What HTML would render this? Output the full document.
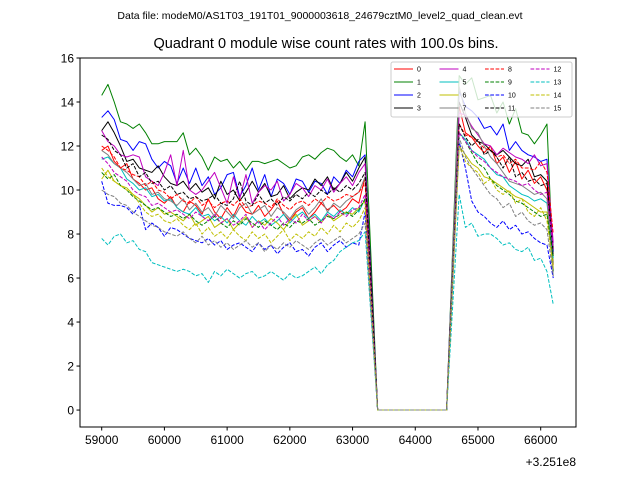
<!DOCTYPE html>
<html><head><meta charset="utf-8"><style>
body{margin:0;background:#fff}
svg{display:block;font-family:"Liberation Sans","DejaVu Sans",sans-serif}
</style></head><body>
<svg id="chart" width="640" height="480">
<text x="320" y="19" font-size="10.5" text-anchor="middle">Data file: modeM0/AS1T03_191T01_9000003618_24679cztM0_level2_quad_clean.evt</text>
<text x="326" y="48" font-size="14.5" text-anchor="middle">Quadrant 0 module wise count rates with 100.0s bins.</text>
<text x="576" y="466" font-size="12" text-anchor="end">+3.251e8</text>
<g id="plot"></g>
<g id="axes"></g>
<g id="legend"></g>
</svg>
<script>
const leftStart=59000, gapStart=63400, rightStart=64700, step=100;
const xTicks=[59000,60000,61000,62000,63000,64000,65000,66000];
const yTicks=[0,2,4,6,8,10,12,14,16];
const names=["0","1","2","3","4","5","6","7","8","9","10","11","12","13","14","15"];
const colors=["#ff0000","#008000","#0000ff","#000000","#bf00bf","#00bfbf","#bfbf00","#808080","#ff0000","#008000","#0000ff","#000000","#bf00bf","#00bfbf","#bfbf00","#808080"];
const dashed=[0,0,0,0,0,0,0,0,1,1,1,1,1,1,1,1];
const gapValues=[0,0,0,0,0,0,0,0,0,0,0,0];
const left0=[11.8,12.0,11.3,11.0,11.2,10.5,10.3,10.0,10.1,9.6,9.4,9.7,9.2,9.0,9.5,9.3,8.9,9.6,9.0,8.7,9.2,8.8,9.4,9.0,8.9,9.3,8.8,9.1,9.5,8.9,8.6,9.0,9.2,8.7,9.0,9.4,9.1,9.3,9.0,9.2,9.6,9.4,10.6];
const right0=[13.8,12.6,12.4,12.0,11.7,12.0,11.2,11.5,10.8,11.3,10.5,10.9,10.3,10.6,10.0,6.6];
const left1=[14.3,14.8,14.0,13.1,13.0,12.8,13.0,12.6,12.1,12.1,12.2,12.2,12.2,12.6,11.6,11.9,11.5,10.9,11.5,11.3,11.4,11.0,11.3,10.9,11.3,11.3,11.2,11.3,11.4,11.2,11.0,11.1,11.5,11.6,11.4,11.7,11.9,11.8,11.5,11.3,11.6,11.1,13.1];
const right1=[15.2,14.8,15.1,14.1,14.2,14.3,13.5,14.0,13.0,13.7,12.6,12.5,12.1,12.5,13.0,6.3];
const left2=[13.3,13.6,13.2,12.3,12.2,11.8,12.2,12.1,11.4,11.0,11.3,11.1,10.3,11.0,10.3,11.0,10.2,10.6,9.8,10.1,10.7,10.8,9.7,10.2,11.0,10.0,10.7,9.7,10.5,10.3,9.8,10.5,10.4,9.9,10.4,10.3,9.8,10.6,10.3,10.9,10.6,11.3,11.6];
const right2=[14.5,13.8,13.6,13.3,12.8,12.9,12.5,13.0,11.8,12.2,11.8,11.6,11.5,11.3,11.4,7.2];
const left3=[12.7,13.1,12.6,12.0,11.3,11.4,11.0,10.9,10.8,11.1,10.6,10.3,10.2,10.4,10.0,10.3,9.9,10.1,9.6,10.4,9.8,10.0,9.5,9.9,10.4,9.9,10.3,9.7,9.8,10.2,9.6,9.9,10.1,10.0,10.5,10.2,10.6,10.0,10.3,10.8,10.4,11.0,11.5];
const right3=[14.0,13.3,12.5,12.2,12.1,11.8,11.6,11.8,11.5,11.2,11.1,11.4,10.6,10.7,10.4,7.3];
const left4=[12.7,12.2,12.0,11.6,11.5,11.6,11.5,10.6,10.4,10.2,10.8,11.6,10.2,11.8,10.0,9.8,10.0,10.4,10.8,10.1,9.4,10.6,9.6,10.7,9.4,9.9,10.2,10.0,10.4,9.5,9.8,10.3,10.1,9.7,10.2,10.0,10.5,9.9,10.3,10.6,10.2,10.8,11.2];
const right4=[13.5,13.4,12.9,12.5,12.1,12.0,11.6,11.9,11.7,11.5,11.4,11.2,11.6,11.1,11.2,7.6];
const left5=[11.4,11.5,11.2,11.0,10.5,10.3,10.0,10.1,9.7,9.8,9.5,9.6,9.2,9.0,8.9,9.2,8.8,8.9,8.6,8.8,8.5,8.9,8.6,8.4,8.8,8.5,8.7,8.4,8.6,8.9,8.5,8.8,9.0,8.7,8.9,8.6,9.0,8.8,9.1,8.9,9.2,9.0,9.6];
const right5=[12.6,12.3,11.8,11.6,11.4,11.0,10.7,10.6,10.2,10.0,9.8,9.7,9.5,9.6,9.4,6.9];
const left6=[10.5,10.9,10.4,10.2,10.1,9.8,9.6,9.3,9.0,9.2,8.9,9.0,8.8,8.6,8.9,8.4,8.6,8.8,8.3,8.5,8.7,8.2,8.5,8.8,8.3,8.6,8.4,8.7,8.5,8.2,8.6,8.9,8.4,8.6,8.8,8.5,8.9,8.6,8.8,9.0,8.9,9.2,9.5];
const right6=[12.0,11.6,11.2,11.0,10.6,10.5,10.3,10.1,9.9,9.7,9.6,9.4,9.2,9.0,9.0,6.4];
const left7=[11.8,11.6,11.2,11.0,10.8,10.5,10.2,10.3,9.8,9.9,9.6,9.5,9.3,9.6,9.1,9.4,9.0,9.2,8.8,9.3,9.0,8.7,9.2,9.4,8.9,9.1,9.3,8.8,9.2,9.0,8.7,9.1,9.3,8.9,9.2,9.6,9.0,9.4,9.2,9.5,9.7,9.9,10.6];
const right7=[14.7,13.5,12.8,12.6,12.0,11.5,11.2,10.8,10.4,10.3,10.2,10.0,9.8,9.9,9.6,6.1];
const left8=[12.0,11.8,11.5,11.0,10.9,10.7,10.6,10.2,10.4,10.0,9.9,9.6,9.8,9.5,9.4,9.7,9.3,9.5,9.2,9.4,9.5,9.3,9.6,9.2,9.3,9.5,9.4,9.2,9.6,9.3,9.1,9.4,9.5,9.3,9.6,9.4,9.7,9.5,9.6,9.8,9.7,9.9,10.3];
const right8=[13.0,12.5,12.4,12.2,11.9,11.8,11.5,11.6,11.2,11.4,11.0,11.0,10.9,11.3,10.8,8.0];
const left9=[10.8,10.5,10.7,10.2,10.0,9.7,9.5,9.3,9.1,9.2,9.0,8.8,8.9,8.7,8.9,8.6,8.4,8.6,8.8,8.5,8.3,8.6,8.4,8.7,8.5,8.3,8.6,8.4,8.2,8.5,8.3,8.6,8.5,8.7,8.4,8.6,8.8,8.7,8.9,9.0,8.8,9.1,9.6];
const right9=[12.6,12.2,11.7,11.2,11.0,10.5,10.2,10.0,9.8,9.5,9.4,9.2,9.0,8.8,8.9,7.0];
const left10=[10.4,9.4,9.3,9.3,9.2,8.9,9.3,8.2,8.5,8.3,7.9,8.3,8.2,8.0,7.8,7.7,7.6,7.8,7.5,7.7,7.3,7.5,7.6,7.4,7.2,7.6,7.3,7.5,7.1,7.4,7.6,7.2,7.3,7.0,7.4,7.6,7.2,7.5,7.7,7.4,7.6,7.5,9.0];
const right10=[12.2,11.0,9.5,9.0,8.8,8.5,8.3,8.6,8.2,8.4,8.0,8.1,7.8,7.6,7.5,6.0];
const left11=[12.5,12.3,11.8,11.6,11.0,11.2,10.6,10.8,10.3,10.4,10.0,10.2,9.8,9.9,9.6,9.7,9.5,9.6,9.8,9.4,9.3,9.6,10.4,9.5,9.3,9.8,9.4,9.6,9.3,9.7,9.5,9.8,9.6,9.9,9.7,10.0,9.8,10.1,9.9,10.2,10.0,10.3,10.8];
const right11=[13.0,12.4,12.0,12.3,11.6,11.8,11.5,11.0,11.5,10.6,10.8,10.4,10.5,10.2,10.3,7.0];
const left12=[11.5,11.2,10.8,10.6,10.4,10.0,9.8,9.7,9.3,9.4,9.2,9.0,9.1,8.9,8.7,9.0,8.8,8.6,8.9,8.5,8.7,8.4,8.6,8.9,8.3,8.6,8.2,8.5,8.8,8.4,8.7,8.5,8.9,8.6,8.8,8.5,8.9,8.7,9.0,8.8,9.1,9.2,9.8];
const right12=[12.6,12.2,11.8,11.5,11.3,11.0,10.8,10.6,10.5,10.4,10.2,10.3,10.0,9.8,9.9,7.3];
const left13=[7.8,7.5,7.9,8.0,7.6,7.7,7.3,7.2,6.7,6.6,6.5,6.4,6.3,6.4,6.3,6.1,6.2,5.8,6.3,6.1,6.4,6.2,6.0,6.2,6.3,6.0,6.1,6.3,6.1,5.9,6.2,6.0,6.1,6.3,6.5,6.2,6.6,6.8,7.2,7.4,7.6,7.7,8.1];
const right13=[9.8,8.3,8.5,7.9,8.0,8.0,7.8,7.5,7.6,7.3,7.2,7.4,6.8,6.9,6.3,4.8];
const left14=[11.0,10.6,10.4,10.2,10.0,9.8,9.4,9.0,8.8,8.9,8.6,8.5,8.7,8.4,8.2,8.5,8.0,8.3,7.9,8.1,7.8,8.2,7.9,7.7,8.1,7.8,8.0,7.6,7.9,8.2,7.7,8.0,7.8,8.1,7.9,8.3,8.0,8.4,8.1,8.5,8.3,8.6,9.2];
const right14=[12.0,11.3,11.0,10.8,10.3,10.5,10.0,9.8,10.0,9.4,9.6,9.0,8.8,9.2,8.6,6.5];
const left15=[10.0,9.8,9.7,9.4,9.3,9.0,8.8,8.6,8.4,8.3,8.1,8.0,7.9,8.1,7.8,7.6,7.9,7.5,7.7,7.4,7.6,7.3,7.5,7.7,7.4,7.6,7.2,7.5,7.3,7.6,7.4,7.7,7.5,7.3,7.6,7.8,7.5,7.7,7.9,7.6,7.8,8.0,8.5];
const right15=[12.4,11.5,11.0,10.6,10.2,9.8,9.6,9.2,9.4,8.8,9.0,8.6,8.4,8.5,8.2,6.1];
const lefts=[left0,left1,left2,left3,left4,left5,left6,left7,left8,left9,left10,left11,left12,left13,left14,left15];
const rights=[right0,right1,right2,right3,right4,right5,right6,right7,right8,right9,right10,right11,right12,right13,right14,right15];

const NS="http://www.w3.org/2000/svg";
const L=80,R=576,T=58,B=427;
const xMin=58654,xMax=66563,yMin=-0.77,yMax=16;
const xs=v=>L+(v-xMin)/(xMax-xMin)*(R-L);
const ys=v=>B-(v-yMin)/(yMax-yMin)*(B-T);
function mk(tag,attrs,parent){const e=document.createElementNS(NS,tag);for(const k in attrs)e.setAttribute(k,attrs[k]);parent.appendChild(e);return e;}
const plot=document.getElementById('plot'),axes=document.getElementById('axes'),leg=document.getElementById('legend');

for(let s=0;s<16;s++){
  const pts=[];
  lefts[s].forEach((v,i)=>pts.push([leftStart+i*step,v]));
  gapValues.forEach((v,i)=>pts.push([gapStart+i*step,v]));
  rights[s].forEach((v,i)=>pts.push([rightStart+i*step,v]));
  const p=mk('polyline',{points:pts.map(q=>xs(q[0]).toFixed(2)+','+ys(q[1]).toFixed(2)).join(' '),fill:'none',stroke:colors[s],'stroke-width':1,'stroke-linejoin':'round'},plot);
  if(dashed[s])p.setAttribute('stroke-dasharray','3.7,1.6');
  
  
}
const frame=mk('rect',{x:L,y:T,width:R-L,height:B-T,fill:'none',stroke:'#000','stroke-width':1},axes);


xTicks.forEach(v=>{
  const x=xs(v);
  mk('line',{x1:x,x2:x,y1:B,y2:B+3.5,stroke:'#000'},axes);
  const t=mk('text',{x:x,y:B+17,'font-size':12,'text-anchor':'middle'},axes);
  t.textContent=v;
  
  
});
yTicks.forEach(v=>{
  const y=ys(v);
  mk('line',{x1:L-3.5,x2:L,y1:y,y2:y,stroke:'#000'},axes);
  const t=mk('text',{x:L-6,y:y+4.5,'font-size':12,'text-anchor':'end'},axes);
  t.textContent=v;
  
  
});
const box=mk('rect',{x:391,y:62,width:181,height:55,rx:2,fill:'#fff','fill-opacity':0.8,stroke:'#ccc','stroke-width':1},leg);


for(let s=0;s<16;s++){
  const c=Math.floor(s/4),r=s%4;
  const x0=394+c*45.5,y0=69+r*13;
  const ln=mk('line',{x1:x0,x2:x0+19,y1:y0,y2:y0,stroke:colors[s],'stroke-width':1},leg);
  if(dashed[s])ln.setAttribute('stroke-dasharray','3.7,1.6');
  const t=mk('text',{x:x0+23,y:y0+2.5,'font-size':7},leg);
  t.textContent=names[s];
  
  
}
</script>
</body></html>
